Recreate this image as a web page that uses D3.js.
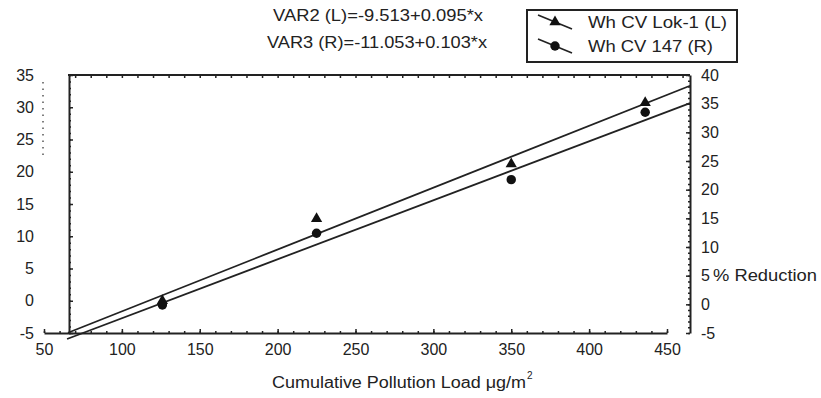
<!DOCTYPE html>
<html>
<head>
<meta charset="utf-8">
<script src="https://cdn.jsdelivr.net/npm/d3@7"></script>
<style>
  body { margin: 0; background: #fff; }
  svg { display: block; font-family: "Liberation Sans", Arial, sans-serif; }
  .tick text { font-size: 16px; fill: #222; }
  .tick line { stroke: #222; stroke-width: 1.5; }
  .domain { stroke: #222; stroke-width: 2; }
</style>
</head>
<body>
<div id="chart"></div>
<script>
// values
const xTicks = [50, 100, 150, 200, 250, 300, 350, 400, 450];
const leftTicks = [-5, 0, 5, 10, 15, 20, 25, 30, 35];
const rightTicks = [-5, 0, 5, 10, 15, 20, 25, 30, 35, 40];
const loadX = [126, 225, 350, 436];
const lokL = [0.0, 12.7, 21.2, 30.7];
const cv147R = [-0.1, 12.4, 21.75, 33.5];
// fit lines as drawn in the figure (end points)
const fitL = [[65.4, -4.96], [464.8, 33.33]];
const fitR = [[64.8, -6.05], [464.8, 35.1]];
const equations = ['VAR2 (L)=-9.513+0.095*x', 'VAR3 (R)=-11.053+0.103*x'];
const seriesNames = ['Wh CV Lok-1 (L)', 'Wh CV 147 (R)'];

const W = 821, H = 398;
const svg = d3.select('#chart').append('svg').attr('width', W).attr('height', H);

const x = d3.scaleLinear().domain([50, 450]).range([44, 667]);
const yL = d3.scaleLinear().domain([-5, 35]).range([333, 75]);
const yR = d3.scaleLinear().domain([-5, 40]).range([333, 75]);

const ink = '#222';
const plain = d => String(d); // hyphen minus like the original

// top border
svg.append('line').attr('x1', 68).attr('x2', 690).attr('y1', 75).attr('y2', 75)
  .attr('stroke', ink).attr('stroke-width', 2);

// minor ticks
svg.append('g').attr('transform', 'translate(0,75)')
  .call(d3.axisTop(x).tickValues(d3.range(70, 461, 10)).tickSize(-3).tickFormat(''))
  .call(g => g.select('.domain').remove());
svg.append('g').attr('transform', 'translate(0,333)')
  .call(d3.axisBottom(x).tickValues(d3.range(50, 451, 10)).tickSize(-2).tickFormat(''))
  .call(g => g.select('.domain').remove());
svg.append('g').attr('transform', 'translate(69,0)')
  .call(d3.axisLeft(yL).tickValues(d3.range(-5, 36, 1)).tickSize(-2).tickFormat(''))
  .call(g => g.select('.domain').remove());
svg.append('g').attr('transform', 'translate(690,0)')
  .call(d3.axisRight(yR).tickValues(d3.range(-5, 41, 1)).tickSize(-2).tickFormat(''))
  .call(g => g.select('.domain').remove());

// main axes
svg.append('g').attr('transform', 'translate(0,333)')
  .call(d3.axisBottom(x).tickValues(xTicks).tickFormat(plain).tickSize(-4).tickSizeOuter(0).tickPadding(11));
svg.append('g').attr('transform', 'translate(69,0)')
  .call(d3.axisLeft(yL).tickValues(leftTicks).tickFormat(plain).tickSize(-4).tickSizeOuter(0).tickPadding(35));
svg.append('g').attr('transform', 'translate(690,0)')
  .call(d3.axisRight(yR).tickValues(rightTicks).tickFormat(plain).tickSize(-4).tickSizeOuter(0).tickPadding(11));

// dotted artefact left of the left axis
svg.append('line').attr('x1', 43).attr('x2', 43).attr('y1', 82).attr('y2', 160)
  .attr('stroke', '#555').attr('stroke-width', 1.5).attr('stroke-dasharray', '1.5,5');

// fit lines
svg.append('line')
  .attr('x1', x(fitL[0][0])).attr('y1', yL(fitL[0][1]))
  .attr('x2', x(fitL[1][0])).attr('y2', yL(fitL[1][1]))
  .attr('stroke', ink).attr('stroke-width', 1.8);
svg.append('line')
  .attr('x1', x(fitR[0][0])).attr('y1', yR(fitR[0][1]))
  .attr('x2', x(fitR[1][0])).attr('y2', yR(fitR[1][1]))
  .attr('stroke', ink).attr('stroke-width', 1.8);

// points
const tri = d3.symbol(d3.symbolTriangle, 55);
const circ = d3.symbol(d3.symbolCircle, 70);
svg.selectAll('.pt-r').data(loadX).join('path').attr('class', 'pt-r')
  .attr('d', circ).attr('fill', '#111')
  .attr('transform', (d, i) => `translate(${x(d)},${yR(cv147R[i])})`);
svg.selectAll('.pt-l').data(loadX).join('path').attr('class', 'pt-l')
  .attr('d', tri).attr('fill', '#111')
  .attr('transform', (d, i) => `translate(${x(d)},${yL(lokL[i])})`);

// equations
svg.selectAll('.eq').data(equations).join('text').attr('class', 'eq')
  .attr('x', (d, i) => i ? 267 : 273).attr('y', (d, i) => i ? 48 : 21)
  .attr('font-size', 16).attr('fill', ink)
  .attr('textLength', (d, i) => i ? 220 : 210).attr('lengthAdjust', 'spacingAndGlyphs')
  .text(d => d);

// legend
svg.append('rect').attr('x', 527).attr('y', 10).attr('width', 210).attr('height', 52)
  .attr('fill', 'none').attr('stroke', ink).attr('stroke-width', 2);
const leg = svg.selectAll('.leg').data(seriesNames).join('g').attr('class', 'leg')
  .attr('transform', (d, i) => `translate(0,${i * 24})`);
leg.append('line').attr('x1', 538).attr('y1', 15).attr('x2', 572).attr('y2', 29)
  .attr('stroke', ink).attr('stroke-width', 1.7);
leg.append('path').attr('d', (d, i) => i ? circ() : tri()).attr('fill', '#111')
  .attr('transform', 'translate(555,22)');
leg.append('text').attr('x', 588).attr('y', 28).attr('font-size', 16).attr('fill', ink)
  .attr('textLength', (d, i) => i ? 125 : 139).attr('lengthAdjust', 'spacingAndGlyphs')
  .text(d => d);

// axis titles
svg.append('text').attr('x', 713).attr('y', 281).attr('font-size', 16).attr('fill', ink)
  .attr('textLength', 104).attr('lengthAdjust', 'spacingAndGlyphs').text('% Reduction');
svg.append('text').attr('x', 272).attr('y', 388).attr('font-size', 16).attr('fill', ink)
  .attr('textLength', 254).attr('lengthAdjust', 'spacingAndGlyphs')
  .text('Cumulative Pollution Load \u03bcg/m');
svg.append('text').attr('x', 527).attr('y', 379).attr('font-size', 10).attr('fill', ink).text('2');
</script>
</body>
</html>
